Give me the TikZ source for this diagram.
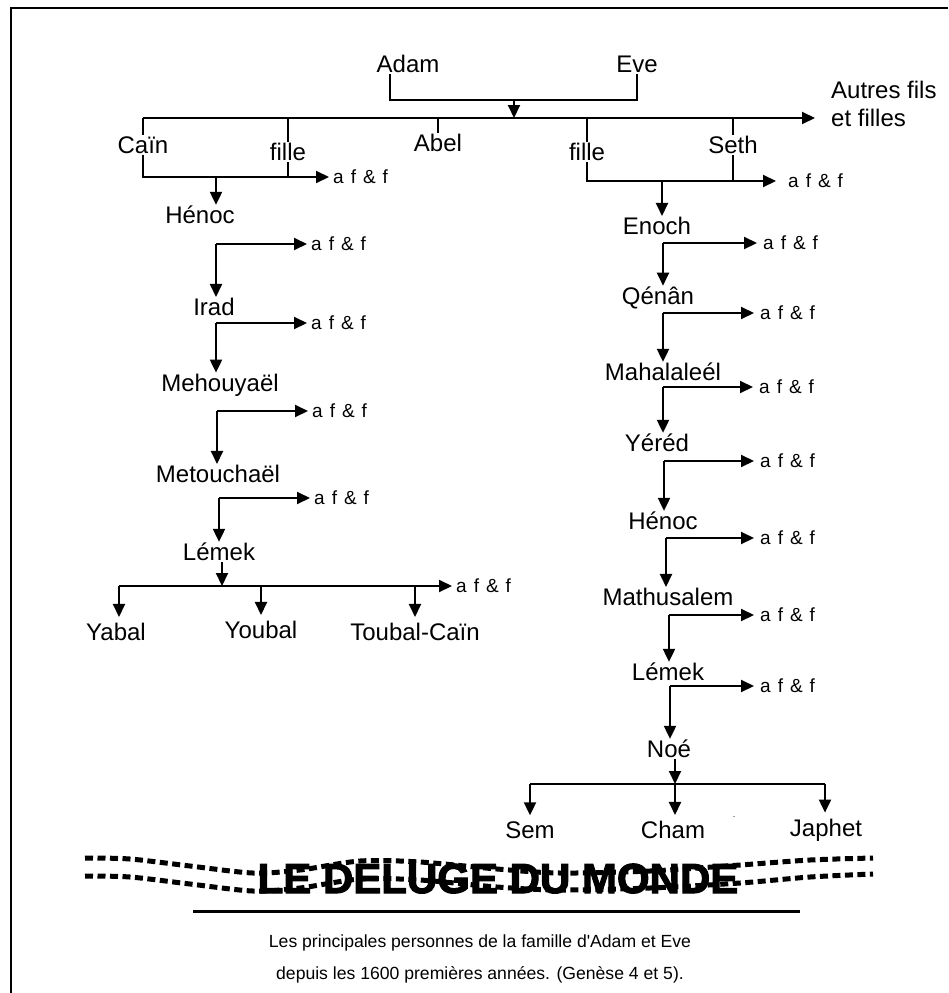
\documentclass[tikz,border=0pt]{standalone}
\usepackage{fontspec}
\setmainfont{Liberation Sans}
\newfontfamily\titrefont{Liberation Sans Bold}[FakeBold=2.5]
\usetikzlibrary{arrows.meta}

\newcommand\affspacing{\spaceskip 7pt\relax}

\tikzset{
  person/.style={font=\fontsize{24}{28}\selectfont, inner sep=1pt},
  aff/.style={font=\fontsize{19}{21}\selectfont\affspacing, anchor=west, inner sep=1pt},
  link/.style={line width=2pt},
  arr/.style={line width=2pt, -{Triangle[length=13pt,width=12pt]}},
  affarr/.style={arr, shorten >=#1},
  affarr/.default=3pt,
  childarr/.style={arr, shorten >=5pt},
  wave/.style={line width=5pt, dash pattern=on 8pt off 4.5pt},
}

\begin{document}
\begin{tikzpicture}[x=1pt,y=-1pt]
    \useasboundingbox (0,0) rectangle (948,993);
    \draw[line width=1.5pt] (11,993) -- (11,8) -- (948,8);

    \node[person] (adam) at (408,64) {Adam};
    \node[person] (eve) at (637,64) {Eve};
    \coordinate (wed) at (390,100);
    \coordinate (mid) at (514,100);
    \coordinate (kids) at (514,118);
    \draw[link] (adam.south -| wed) -- (wed) -| (eve.south);
    \draw[arr] (mid) -- (kids);

    \coordinate (kl) at (143,118);
    \coordinate (kr) at (815,118);
    \draw[arr] (kl) -- (kr);
    \node[person, anchor=west, align=left] (autres) at (830,104) {Autres fils\\et filles};

    \node[person] (cain) at (143,145) {Caïn};
    \node[person] (filleA) at (288,152) {fille};
    \node[person] (abel) at (438,143) {Abel};
    \node[person] (filleB) at (587,152) {fille};
    \node[person] (seth) at (733,145) {Seth};
    \foreach \n in {cain,filleA,abel,filleB,seth}
      \draw[link] (kl -| \n) -- (\n.north);

    % lignee de Cain
    \coordinate (jA) at (216,177);
    \node[aff] (affA0) at (332,177) {a f \& f};
    \draw[affarr] (cain.south) |- (affA0.west);
    \draw[link] (filleA.south) -- (filleA.south |- jA);

    \node[person] (henocA) at (200,215) {Hénoc};
    \node[person] (irad) at (214,307) {Irad};
    \node[person] (mehou) at (220,385) {Mehouyaël};
    \node[person] (metou) at (218,474) {Metouchaël};
    \node[person] (lemekA) at (219,552) {Lémek};
    \draw[arr] (jA) -- (jA |- henocA.north);

    \coordinate (bA1) at (216,244);
    \coordinate (bA2) at (216,323);
    \coordinate (bA3) at (217,411);
    \coordinate (bA4) at (219,498);
    \node[aff] (affA1) at (310,244) {a f \& f};
    \node[aff] (affA2) at (310,323) {a f \& f};
    \node[aff] (affA3) at (311,411) {a f \& f};
    \node[aff] (affA4) at (313,498) {a f \& f};
    \foreach \b/\a/\p in {bA1/affA1/irad, bA2/affA2/mehou, bA3/affA3/metou, bA4/affA4/lemekA} {
      \draw[affarr] (\b) -- (\a.west);
      \draw[arr] (\b) -- (\b |- \p.north);
    }

    \coordinate (lemekJ) at (222,586);
    \coordinate (yl) at (119,586);
    \draw[arr] (lemekA.south -| lemekJ) -- (lemekJ);
    \node[aff] (affA5) at (455,586) {a f \& f};
    \draw[affarr] (yl) -- (affA5.west);
    \node[person] (yabal) at (116,632) {Yabal};
    \node[person] (youbal) at (261,630) {Youbal};
    \node[person] (toubal) at (415,632) {Toubal-Caïn};
    \draw[childarr] (yl) -- (yl |- yabal.north);
    \draw[childarr] (yl -| youbal) -- (youbal.north);
    \draw[childarr] (yl -| toubal) -- (toubal.north);

    % lignee de Seth
    \coordinate (jB) at (662,181);
    \node[aff] (affB0) at (787,181) {a f \& f};
    \draw[affarr=11pt] (filleB.south) |- (affB0.west);
    \draw[link] (seth.south) -- (seth.south |- jB);

    \node[person] (enoch) at (657,226) {Enoch};
    \node[person] (qenan) at (658,298) {Qénân};
    \node[person] (mahal) at (663,372) {Mahalaleél};
    \node[person] (yered) at (657,443) {Yéréd};
    \node[person] (henocB) at (663,521) {Hénoc};
    \node[person] (mathu) at (668,597) {Mathusalem};
    \node[person] (lemekB) at (668,672) {Lémek};
    \node[person] (noe) at (669,749) {Noé};
    \draw[arr] (jB) -- (jB |- enoch.north);

    \coordinate (bB1) at (663,243);
    \coordinate (bB2) at (663,313);
    \coordinate (bB3) at (663,387);
    \coordinate (bB4) at (664,461);
    \coordinate (bB5) at (666,538);
    \coordinate (bB6) at (669,615);
    \coordinate (bB7) at (670,686);
    \node[aff] (affB1) at (762,243) {a f \& f};
    \node[aff] (affB2) at (759,313) {a f \& f};
    \node[aff] (affB3) at (758,387) {a f \& f};
    \node[aff] (affB4) at (759,461) {a f \& f};
    \node[aff] (affB5) at (759,538) {a f \& f};
    \node[aff] (affB6) at (759,615) {a f \& f};
    \node[aff] (affB7) at (759,686) {a f \& f};
    \foreach \b/\a/\p in {bB1/affB1/qenan, bB2/affB2/mahal, bB3/affB3/yered, bB4/affB4/henocB,
                          bB5/affB5/mathu, bB6/affB6/lemekB, bB7/affB7/noe} {
      \draw[affarr=5pt] (\b) -- (\a.west);
      \draw[arr] (\b) -- (\b |- \p.north);
    }

    \coordinate (noeJ) at (675,784);
    \coordinate (seml) at (530,784);
    \coordinate (japr) at (825,784);
    \draw[arr] (noe.south -| noeJ) -- (noeJ);
    \draw[link] (seml) -- (japr);
    \node[person] (sem) at (530,830) {Sem};
    \node[person] (cham) at (673,830) {Cham};
    \node[person] (japhet) at (826,830) {Japhet};
    \draw[childarr] (seml) -- (seml |- sem.north);
    \draw[childarr] (noeJ) -- (noeJ |- cham.north);
    \draw[childarr] (japr) -- (japr |- japhet.north);
    \node[font=\fontsize{9}{9}\selectfont, text=gray] (trait) at (734,818) {-};

    % titre
    \node[font=\fontsize{42}{42}\titrefont, anchor=base] (titre) at (498,893) {LE DELUGE DU MONDE};
    \draw[wave] plot[smooth] coordinates {(85,858) (130,859) (190,866) (253,873) (300,870) (360,861)
      (420,862) (497,869) (560,873) (650,871) (740,865) (810,860) (873,858)};
    \draw[wave] plot[smooth] coordinates {(85,876) (130,877) (190,884) (253,891) (300,888) (360,879)
      (420,880) (497,887) (560,890) (650,888) (740,883) (810,877) (873,874)};
    \coordinate (ruleL) at (193,911);
    \coordinate (ruleR) at (800,911);
    \draw[line width=3pt] (ruleL) -- (ruleR);
    \node[font=\fontsize{17.6}{32}\selectfont, align=center] (legende) at (480,959)
      {Les principales personnes de la famille d\textquotesingle Adam et Eve\\depuis les 1600 premières années. (Genèse 4 et 5).};
\end{tikzpicture}
\end{document}
